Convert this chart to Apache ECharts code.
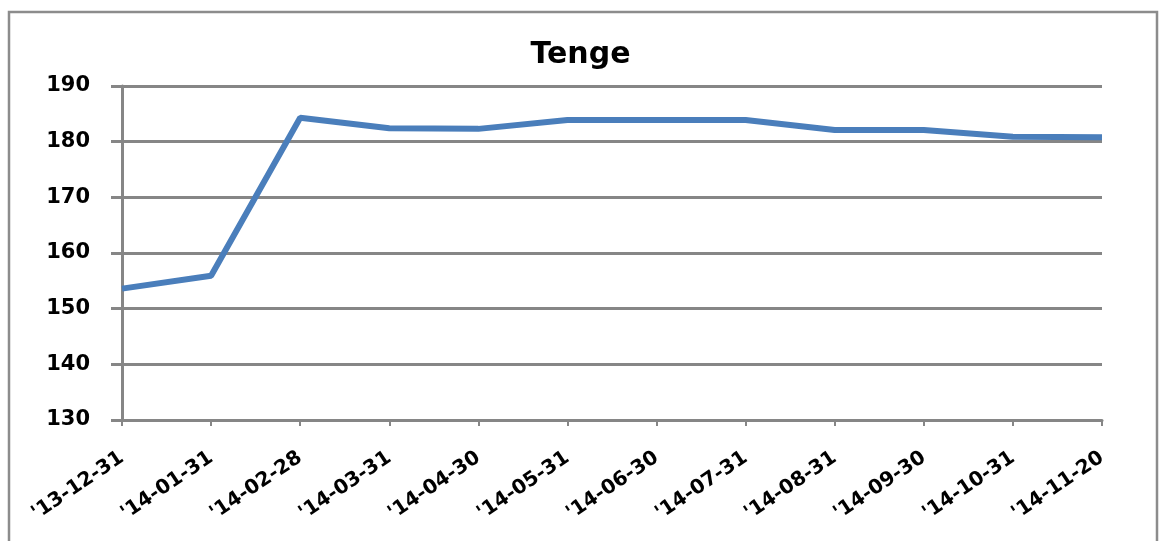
<!DOCTYPE html>
<html>
<head>
<meta charset="utf-8">
<script src="https://cdn.jsdelivr.net/npm/echarts@6/dist/echarts.min.js"></script>
<style>
  html, body { margin: 0; padding: 0; background: #ffffff; }
  #chart { width: 1161px; height: 541px; }
</style>
</head>
<body>
<div id="chart"></div>
<script>
// Month-end tenge rate
const dates = ["'13-12-31", "'14-01-31", "'14-02-28", "'14-03-31", "'14-04-30", "'14-05-31",
               "'14-06-30", "'14-07-31", "'14-08-31", "'14-09-30", "'14-10-31", "'14-11-20"];
const tenge = [153.6, 155.9, 184.3, 182.4, 182.3, 183.9, 183.9, 183.9, 182.1, 182.1, 180.9, 180.8];
const yTicks = { min: 130, max: 190, step: 10 };

const gridGrey = '#868686';
const chart = echarts.init(document.getElementById('chart'));

chart.setOption({
  backgroundColor: '#ffffff',
  animation: false,
  title: {
    text: 'Tenge',
    left: 'center',
    top: 35,
    textStyle: { fontFamily: 'DejaVu Sans', fontWeight: 'bold', fontSize: 30, color: '#000000' }
  },
  graphic: [{
    type: 'rect',
    shape: { x: 9, y: 12, width: 1148, height: 540 },
    style: { fill: 'none', stroke: '#8c8c8c', lineWidth: 2.5 },
    silent: true
  }],
  grid: { left: 122, right: 59, top: 86, bottom: 121 },
  xAxis: {
    type: 'category',
    data: dates,
    boundaryGap: false,
    axisLine: { lineStyle: { color: gridGrey, width: 3 } },
    axisTick: { show: true, length: 6, lineStyle: { color: gridGrey, width: 2 } },
    axisLabel: {
      rotate: 34,
      margin: 36,
      interval: 0,
      fontFamily: 'DejaVu Sans',
      fontWeight: 'bold',
      fontSize: 20,
      color: '#000000'
    },
    splitLine: { show: false }
  },
  yAxis: {
    type: 'value',
    min: yTicks.min,
    max: yTicks.max,
    interval: yTicks.step,
    axisLine: { show: true, lineStyle: { color: gridGrey, width: 3 } },
    axisTick: { show: true, length: 11, lineStyle: { color: gridGrey, width: 3 } },
    axisLabel: {
      margin: 32,
      fontFamily: 'DejaVu Sans',
      fontWeight: 'bold',
      fontSize: 21,
      color: '#000000'
    },
    splitLine: { show: true, lineStyle: { color: gridGrey, width: 3 } }
  },
  series: [{
    type: 'line',
    data: tenge,
    symbol: 'none',
    lineStyle: { color: '#4a7ebb', width: 6 },
    itemStyle: { color: '#4a7ebb' }
  }]
});
</script>
</body>
</html>
